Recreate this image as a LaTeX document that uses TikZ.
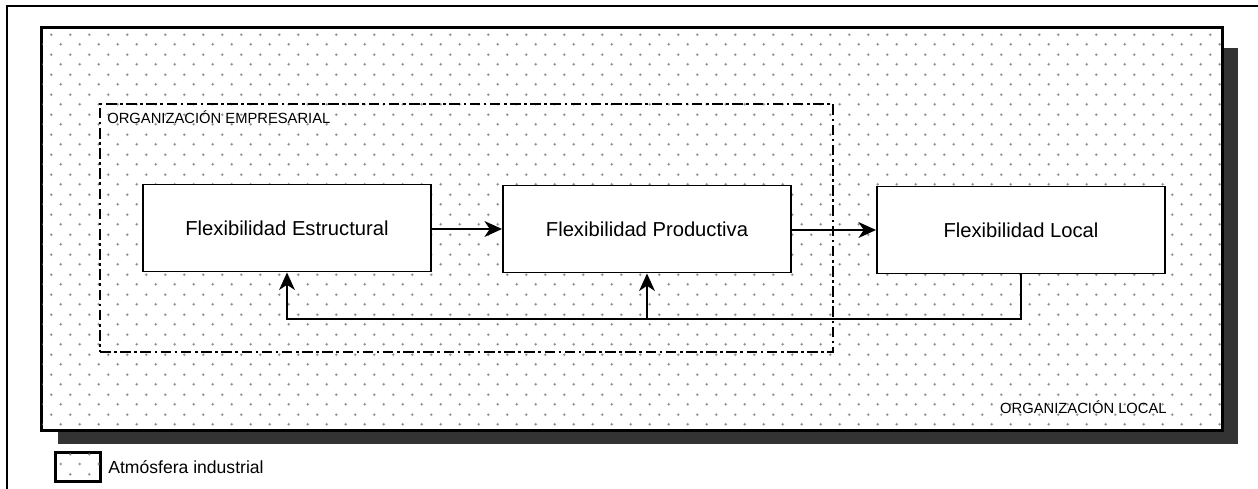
\documentclass[tikz,border=0pt]{standalone}
\usepackage{fontspec}
\setmainfont{Liberation Sans}
\usetikzlibrary{arrows.meta,patterns}
\pgfdeclarepatternformonly{plusgrid}{\pgfpointorigin}{\pgfqpoint{10.8pt}{11.4pt}}{\pgfqpoint{10.8pt}{11.4pt}}{%
  \pgfsetlinewidth{0.45pt}%
  \pgfpathmoveto{\pgfqpoint{1.9pt}{2.85pt}}\pgfpathlineto{\pgfqpoint{3.5pt}{2.85pt}}%
  \pgfpathmoveto{\pgfqpoint{2.7pt}{2.05pt}}\pgfpathlineto{\pgfqpoint{2.7pt}{3.65pt}}%
  \pgfpathmoveto{\pgfqpoint{7.3pt}{8.55pt}}\pgfpathlineto{\pgfqpoint{8.9pt}{8.55pt}}%
  \pgfpathmoveto{\pgfqpoint{8.1pt}{7.75pt}}\pgfpathlineto{\pgfqpoint{8.1pt}{9.35pt}}%
  \pgfusepath{stroke}}
\tikzset{
  flexbox/.style={draw=black, line width=1.1pt, fill=white, minimum width=5.76cm, minimum height=1.74cm, inner sep=0pt, font=\fontsize{11.5}{13}\selectfont},
  arr/.style={line width=1.1pt, -{Stealth[length=10pt,width=9pt,inset=3pt]}},
  dots/.style={pattern=plusgrid, pattern color=black!50},
  caplabel/.style={font=\fontsize{8.4}{10}\selectfont, inner sep=0pt},
  dashdot/.style={line width=1.2pt, dash pattern=on 6pt off 2pt on 1.5pt off 2pt}
}
\begin{document}
\begin{tikzpicture}[x=0.02cm,y=-0.02cm]
\useasboundingbox (0,0) rectangle (1258,489);
% outer frame
\draw[line width=0.9pt] (7,489) -- (7,6) -- (1258,6);
% shadow
\fill[black!80] (58,430) rectangle (1238,444);
\fill[black!80] (1222,48) rectangle (1238,444);
% main box
\node[draw=black, line width=1.2pt, fill=white, minimum width=23.6cm, minimum height=8.04cm, inner sep=0pt] (local) at (632,229) {};
\fill[dots] (local.south west) rectangle (local.north east);
\draw[line width=1.2pt] (local.south west) rectangle (local.north east);
% empresarial box
\node[draw=black, dashdot, minimum width=14.66cm, minimum height=4.96cm, inner sep=0pt] (emp) at (466.5,228) {};
\node[caplabel, anchor=west] (emplab) at (107,117) {ORGANIZACIÓN EMPRESARIAL};
\node[caplabel, anchor=east] (loclab) at (1167,407) {ORGANIZACIÓN LOCAL};
% flexibility boxes
\node[flexbox] (b1) at (287,228) {Flexibilidad Estructural};
\node[flexbox] (b2) at (647,229) {Flexibilidad Productiva};
\node[flexbox] (b3) at (1021,230) {Flexibilidad Local};
% arrows
\draw[arr] (b1.east |- b2.west) -- (b2.west);
\draw[arr] (b2.east |- b3.west) -- (b3.west);
\coordinate (fb) at (0,319);
\draw[arr] (b3.south) |- (b1.south |- fb) -- (b1.south);
\draw[arr] (b2.south |- fb) -- (b2.south);
% legend
\node[draw=black, line width=1pt, fill=white, minimum width=0.88cm, minimum height=0.56cm, inner sep=0pt] (leg) at (78,467) {};
\fill[dots] (leg.south west) rectangle (leg.north east);
\draw[line width=1pt] (leg.south west) rectangle (leg.north east);
\node[anchor=west, inner sep=0pt, font=\fontsize{10}{12}\selectfont] (legtxt) at (108,467) {Atmósfera industrial};
\end{tikzpicture}
\end{document}
